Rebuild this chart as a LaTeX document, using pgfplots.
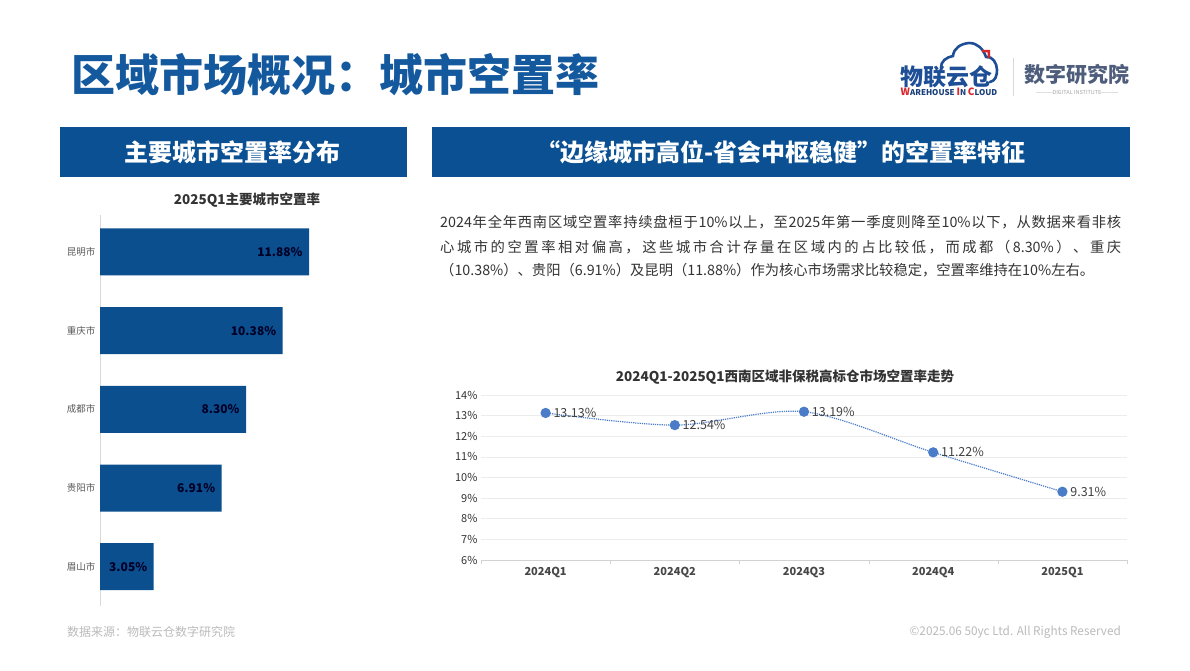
\documentclass[border=0pt]{standalone}
\usepackage{fontspec}
\setmainfont{Noto Sans CJK SC}
\usepackage{pgfplots}
\pgfplotsset{compat=1.18}
\definecolor{hdr}{HTML}{0A5092}
\definecolor{ttl}{HTML}{14599E}
\definecolor{barc}{HTML}{0B4F8E}
\definecolor{lnc}{HTML}{4A7CC8}
\definecolor{txt}{HTML}{333333}
\definecolor{foot}{HTML}{BBBBBB}
\definecolor{logob}{HTML}{1D4E96}
\definecolor{logog}{HTML}{4E5D7B}
\definecolor{logor}{HTML}{D9262C}
\pgfkeys{/pgf/number format/assume math mode=true}
% character classes for CJK so that justified lines can stretch
\newcount\cjkcc
\cjkcc="4E00
\loop \XeTeXcharclass\cjkcc=1 \advance\cjkcc by 1 \ifnum\cjkcc<"A000 \repeat
\XeTeXcharclass"FF0C=1 \XeTeXcharclass"FF08=1 \XeTeXcharclass"FF09=1
\XeTeXcharclass"3001=1 \XeTeXcharclass"3002=1
\XeTeXinterchartoks 1 1 = {\hskip 0pt plus 1pt}
\XeTeXinterchartoks 0 1 = {\hskip 0pt plus 1pt}
\XeTeXinterchartoks 1 0 = {\hskip 0pt plus 1pt}
\newcommand{\jline}[1]{{\XeTeXinterchartokenstate=1 \makebox[681pt][s]{#1}}}
\begin{document}
\begin{tikzpicture}[x=1pt,y=1pt]
\useasboundingbox[fill=white] (0,0) rectangle (1190,670);
% page title
\node[anchor=west, text=ttl, font=\fontsize{44}{50}\selectfont\bfseries, inner sep=0] at (71,595) {区域市场概况：城市空置率};
% logo
\draw[logob, line width=2.6pt, line cap=round] (941,602) to[out=95,in=190] (953,614) to[out=85,in=185] (969,627) to[out=0,in=110] (986,613) to[out=10,in=90] (997,600) to[out=-90,in=10] (990,588);
\fill[logor] (982,620) -- (990,620) -- (990,612) -- (987.5,612) -- (987.5,617.5) -- (982,617.5) -- cycle;
\node[text=logob, font=\fontsize{23}{26}\selectfont\bfseries, inner sep=0] at (946,593) {物联云仓};
\node[text=logob!80!black, font=\fontsize{8}{9}\selectfont\bfseries, inner sep=0] at (949,578) {\textcolor{logor}{\fontsize{10}{10}\selectfont W}AREHOUSE \textcolor{logor}{\fontsize{10}{10}\selectfont I}N \textcolor{logor}{\fontsize{10}{10}\selectfont C}LOUD};
\draw[gray!30, line width=0.8pt] (1013,612) -- (1013,574);
\node[text=logog, font=\fontsize{21}{24}\selectfont\bfseries, inner sep=0] at (1077,596) {数字研究院};
\node[text=gray!70, font=\fontsize{5.5}{6}\selectfont, inner sep=0] at (1077,578) {DIGITAL INSTITUTE};
\draw[gray!25, line width=0.4pt] (1036,578) -- (1054,578) (1100,578) -- (1118,578);
% section headers
\fill[hdr] (60,543) rectangle (407,493);
\node[text=white, font=\fontsize{24}{28}\selectfont\bfseries] at (232,518) {主要城市空置率分布};
\fill[hdr] (432,543) rectangle (1130,493);
\node[text=white, font=\fontsize{24}{28}\selectfont\bfseries] at (781,518) {“边缘城市高位-省会中枢稳健”的空置率特征};
% chart titles
\node[text=txt, font=\fontsize{13.5}{16}\selectfont\bfseries] at (247,470) {2025Q1主要城市空置率};
\node[text=txt, font=\fontsize{13.5}{16}\selectfont\bfseries] at (785,293) {2024Q1-2025Q1西南区域非保税高标仓市场空置率走势};
% paragraph
\node[anchor=west, text=txt, font=\fontsize{14.3}{18}\selectfont, inner sep=0] at (440,448) {\jline{2024年全年西南区域空置率持续盘桓于10\%以上，至2025年第一季度则降至10\%以下，从数据来看非核}};
\node[anchor=west, text=txt, font=\fontsize{14.3}{18}\selectfont, inner sep=0] at (440,423) {\jline{心城市的空置率相对偏高，这些城市合计存量在区域内的占比较低，而成都（8.30\%）、重庆}};
\node[anchor=west, text=txt, font=\fontsize{14.3}{18}\selectfont, inner sep=0] at (440,400) {（10.38\%）、贵阳（6.91\%）及昆明（11.88\%）作为核心市场需求比较稳定，空置率维持在10\%左右。};
% footer
\node[anchor=west, text=foot, font=\fontsize{12}{14}\selectfont, inner sep=0] at (67,38) {数据来源：物联云仓数字研究院};
\node[anchor=east, text=foot, font=\fontsize{12}{14}\selectfont, inner sep=0] at (1121,38) {\scalebox{0.98}[1]{©2025.06 50yc Ltd. All Rights Reserved}};

% bar chart
\begin{axis}[at={(100pt,64pt)}, anchor=south west, scale only axis,
  width=264pt, height=391pt,
  xbar, bar width=47pt, xmin=0, xmax=15, ymin=-0.47, ymax=4.5, y dir=reverse,
  axis x line=none, axis y line*=left, y axis line style={draw=gray!30, -, line width=0.8pt},
  ytick={0,1,2,3,4}, yticklabels={昆明市,重庆市,成都市,贵阳市,眉山市},
  major tick length=0pt,
  yticklabel style={font=\fontsize{9.5}{11}\selectfont, text=gray!70!black, xshift=-1pt},
  point meta=x,
  nodes near coords={\pgfmathprintnumber[fixed,fixed zerofill,precision=2]{\pgfplotspointmeta}\%},
  every node near coord/.append style={anchor=east, xshift=-3pt, font=\fontsize{12}{14}\selectfont\bfseries, text=black!85!blue},
  clip=false]
\addplot[fill=barc, draw=none] coordinates {(11.88,0) (10.38,1) (8.30,2) (6.91,3) (3.05,4)};
\end{axis}

% line chart
\begin{axis}[at={(481pt,110pt)}, anchor=south west, scale only axis,
  width=646pt, height=165pt,
  xmin=-0.5, xmax=4.5, ymin=6, ymax=14,
  ytick={6,7,...,14}, yticklabel={\pgfmathprintnumber{\tick}\%},
  xtick={0,1,2,3,4}, xticklabels={2024Q1,2024Q2,2024Q3,2024Q4,2025Q1},
  minor xtick={-0.5,0.5,1.5,2.5,3.5,4.5},
  major tick length=0pt, minor tick length=4pt, tick align=outside,
  minor tick style={draw=gray!35},
  axis lines*=left, axis line style={-}, y axis line style={draw=none},
  x axis line style={draw=gray!35},
  ymajorgrids, grid style={draw=gray!15, line width=0.6pt},
  yticklabel style={font=\fontsize{11}{13}\selectfont, text=txt},
  xticklabel style={font=\fontsize{11}{13}\selectfont\bfseries, text=txt!90, yshift=-4pt},
  clip=false]
\addplot[smooth, densely dotted, color=lnc, line width=1.2pt,
  mark=*, mark size=4.5pt, mark options={solid, fill=lnc, draw=lnc},
  point meta=y,
  nodes near coords={\pgfmathprintnumber[fixed,fixed zerofill,precision=2]{\pgfplotspointmeta}\%},
  every node near coord/.append style={anchor=west, xshift=4pt, font=\fontsize{12.5}{14}\selectfont, text=black!75}]
  coordinates {(0,13.13) (1,12.54) (2,13.19) (3,11.22) (4,9.31)};
\end{axis}
\end{tikzpicture}
\end{document}
